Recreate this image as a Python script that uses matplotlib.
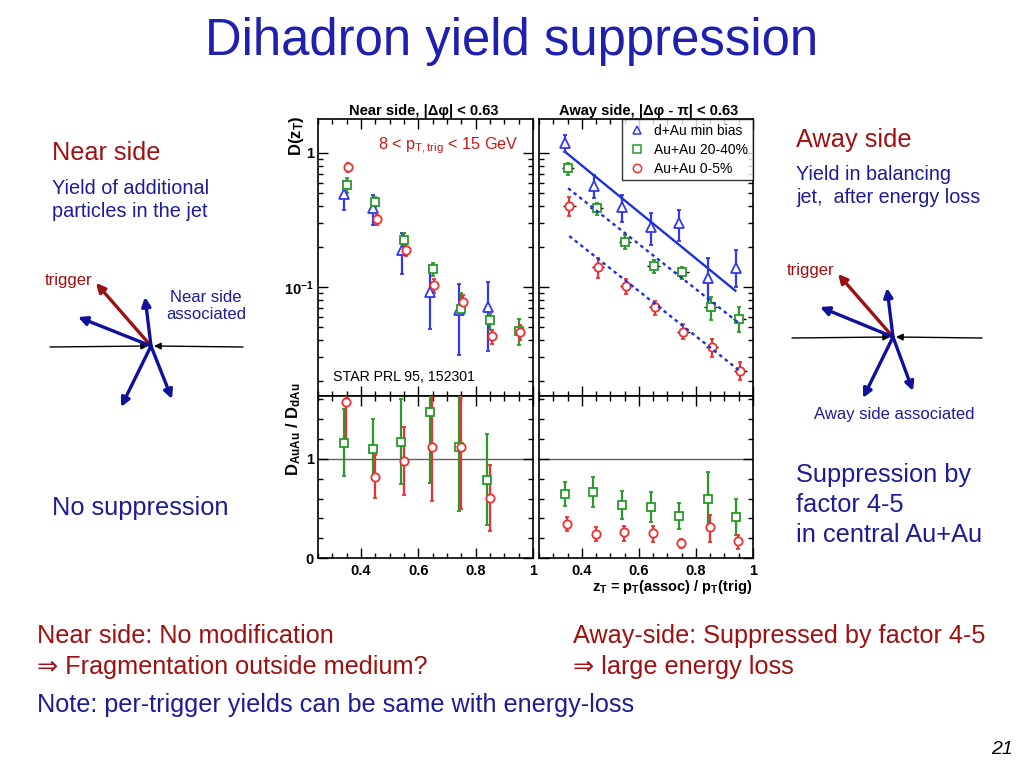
import matplotlib
matplotlib.use("Agg")
import matplotlib.pyplot as plt
from matplotlib.ticker import FixedLocator, FixedFormatter, MultipleLocator, NullFormatter
from matplotlib.lines import Line2D

plt.rcParams['font.family'] = ['Liberation Sans', 'DejaVu Sans']
plt.rcParams['mathtext.fontset'] = 'custom'
plt.rcParams['mathtext.rm'] = 'Liberation Sans'
plt.rcParams['mathtext.it'] = 'Liberation Sans:italic'
plt.rcParams['mathtext.bf'] = 'Liberation Sans:bold'

# z_T bin centres
zt_bins = [0.35, 0.45, 0.55, 0.65, 0.75, 0.85, 0.95]

# near side D(z_T): value, top and bottom of error bar
near_dau = [0.49, 0.386, 0.189, 0.092, 0.067, 0.0705]
near_dau_hi = [0.62, 0.486, 0.254, 0.134, 0.105, 0.109]
near_dau_lo = [0.376, 0.29, 0.126, 0.049, 0.031, 0.0334]
near_mid = [0.577, 0.433, 0.224, 0.136, 0.068, 0.0567, 0.0472]
near_mid_hi = [0.647, 0.47, 0.252, 0.152, 0.09, 0.063, 0.0573]
near_mid_lo = [0.505, 0.397, 0.2, 0.121, 0.064, 0.048, 0.037]
near_cen = [0.78, 0.322, 0.189, 0.103, 0.0777, 0.043, 0.0464]
near_cen_hi = [0.846, 0.345, 0.209, 0.115, 0.087, 0.048, 0.052]
near_cen_lo = [0.725, 0.29, 0.171, 0.091, 0.07, 0.0374, 0.04]

# away side D(z_T)
away_dau = [1.19, 0.567, 0.398, 0.282, 0.299, 0.116, 0.138]
away_dau_hi = [1.36, 0.685, 0.486, 0.355, 0.375, 0.166, 0.19]
away_dau_lo = [1.02, 0.459, 0.307, 0.206, 0.222, 0.071, 0.1]
away_mid = [0.769, 0.387, 0.218, 0.144, 0.129, 0.0705, 0.0577]
away_mid_hi = [0.846, 0.426, 0.244, 0.16, 0.14, 0.084, 0.0705]
away_mid_lo = [0.685, 0.345, 0.192, 0.128, 0.115, 0.0567, 0.0464]
away_cen = [0.404, 0.142, 0.102, 0.0705, 0.0464, 0.0359, 0.0238]
away_cen_hi = [0.47, 0.166, 0.115, 0.079, 0.053, 0.041, 0.0277]
away_cen_lo = [0.34, 0.116, 0.088, 0.0617, 0.0408, 0.030, 0.0203]

# exponential fits on the away side (end points)
fit_dau_z = [0.346, 0.938]
fit_dau = [1.0, 0.094]
fit_mid_z = [0.352, 0.95]
fit_mid = [0.545, 0.054]
fit_cen_z = [0.356, 0.958]
fit_cen = [0.24, 0.0233]

# ratios D_AuAu / D_dAu
ratio_near_mid = [1.164, 1.10, 1.174, 1.47, 1.118, 0.788]
ratio_near_mid_hi = [1.50, 1.40, 1.605, 1.9, 1.9, 1.25]
ratio_near_mid_lo = [0.832, 0.82, 0.748, 0.755, 0.476, 0.335]
ratio_near_cen = [1.571, 0.815, 0.983, 1.118, 1.124, 0.604]
ratio_near_cen_hi = [1.9, 1.04, 1.325, 1.9, 1.9, 0.94]
ratio_near_cen_lo = [1.14, 0.604, 0.637, 0.577, 0.493, 0.275]
ratio_away_mid = [0.644, 0.665, 0.537, 0.51, 0.426, 0.597, 0.413]
ratio_away_mid_hi = [0.762, 0.822, 0.68, 0.665, 0.554, 0.872, 0.594]
ratio_away_mid_lo = [0.527, 0.514, 0.393, 0.365, 0.295, 0.318, 0.228]
ratio_away_cen = [0.342, 0.242, 0.258, 0.252, 0.154, 0.309, 0.167]
ratio_away_cen_hi = [0.416, 0.308, 0.322, 0.325, 0.194, 0.436, 0.235]
ratio_away_cen_lo = [0.268, 0.174, 0.174, 0.164, 0.10, 0.161, 0.091]

c_blue = '#3438e8'
c_green = '#2a9a2a'
c_red = '#ee3030'
t_red = '#a01010'
t_blue = '#1c1c96'


def errs(v, hi, lo):
    return [[a - b for a, b in zip(v, lo)], [b - a for a, b in zip(v, hi)]]


def points(ax, x, v, hi, lo, color, marker, ms, shift, bar=False):
    xs = [z + shift for z in x[:len(v)]]
    if bar:
        ax.errorbar(xs, v, xerr=0.022, fmt='none', ecolor='black', elinewidth=1.0, zorder=2)
    ax.errorbar(xs, v, yerr=errs(v, hi, lo), fmt=marker, color=color, mfc='white',
                mec=color, ms=ms, mew=1.3, elinewidth=1.6, capsize=1.5, capthick=1.5, zorder=3)


def style_axis(ax):
    ax.tick_params(which='both', direction='in', top=True, right=True, width=1.0)
    ax.tick_params(which='major', length=7)
    ax.tick_params(which='minor', length=3.5)
    ax.set_xlim(0.25, 1.0)
    ax.xaxis.set_major_locator(MultipleLocator(0.2))
    ax.xaxis.set_minor_locator(MultipleLocator(0.05))
    for s in ax.spines.values():
        s.set_linewidth(1.2)


fig = plt.figure(figsize=(10.24, 7.68), dpi=100)

# slide layer in pixel coordinates
bg = fig.add_axes([0, 0, 1, 1])
bg.set_xlim(0, 1024)
bg.set_ylim(768, 0)
bg.axis('off')

W, H = 1024.0, 768.0
def box(x0, y0, x1, y1):
    return [x0 / W, 1 - y1 / H, (x1 - x0) / W, (y1 - y0) / H]

ax_nt = fig.add_axes(box(318, 119, 533, 396))
ax_at = fig.add_axes(box(539, 119, 753, 396))
ax_nb = fig.add_axes(box(318, 396, 533, 558))
ax_ab = fig.add_axes(box(539, 396, 753, 558))

# top panels: D(z_T)
for ax in (ax_nt, ax_at):
    ax.set_yscale('log')
    ax.set_ylim(0.0154, 1.79)
    style_axis(ax)
    ax.xaxis.set_major_formatter(NullFormatter())
    ax.yaxis.set_major_locator(FixedLocator([0.1, 1.0]))
    ax.yaxis.set_minor_formatter(NullFormatter())

ax_nt.yaxis.set_major_formatter(FixedFormatter([r'$\mathbf{10^{-1}}$', '1']))
ax_at.yaxis.set_major_formatter(NullFormatter())
for lab in ax_nt.get_yticklabels():
    lab.set_fontweight('bold')
ax_nt.tick_params(axis='y', labelsize=10.5, pad=3)

points(ax_nt, zt_bins, near_dau, near_dau_hi, near_dau_lo, c_blue, '^', 6.5, -0.008)
points(ax_nt, zt_bins, near_mid, near_mid_hi, near_mid_lo, c_green, 's', 5.5, 0.0)
points(ax_nt, zt_bins, near_cen, near_cen_hi, near_cen_lo, c_red, 'o', 6, 0.006)

points(ax_at, zt_bins, away_dau, away_dau_hi, away_dau_lo, c_blue, '^', 6.5, -0.008)
points(ax_at, zt_bins, away_mid, away_mid_hi, away_mid_lo, c_green, 's', 5.5, 0.002, bar=True)
points(ax_at, zt_bins, away_cen, away_cen_hi, away_cen_lo, c_red, 'o', 6, 0.006, bar=True)
ax_at.plot(fit_dau_z, fit_dau, color='#2030d8', lw=1.7, zorder=4)
ax_at.plot(fit_mid_z, fit_mid, color='#2030d8', lw=1.7, ls=(0, (1.5, 1.5)), zorder=4)
ax_at.plot(fit_cen_z, fit_cen, color='#2030d8', lw=1.7, ls=(0, (1.5, 1.5)), zorder=4)

handles = [Line2D([], [], ls='none', marker='^', mfc='white', mec=c_blue, ms=6, mew=1.1),
           Line2D([], [], ls='none', marker='s', mfc='white', mec=c_green, ms=5.5, mew=1.1),
           Line2D([], [], ls='none', marker='o', mfc='white', mec=c_red, ms=6, mew=1.1)]
leg = ax_at.legend(handles, ['d+Au min bias', 'Au+Au 20-40%', 'Au+Au 0-5%'], loc='upper right',
                   fontsize=10, frameon=True, fancybox=False, borderaxespad=0, handletextpad=0.4,
                   borderpad=0.35, labelspacing=0.35, handlelength=1.6)
leg.get_frame().set_edgecolor('black')
leg.get_frame().set_linewidth(1.0)

ax_nt.text(0.28, 0.905, r'8 < p$_{\mathrm{T,trig}}$ < 15 GeV', transform=ax_nt.transAxes,
           color='#c81818', fontsize=11.7, ha='left', va='center')
ax_nt.text(0.07, 0.07, 'STAR PRL 95, 152301', transform=ax_nt.transAxes, fontsize=10.2,
           ha='left', va='center')

# bottom panels: ratio
for ax in (ax_nb, ax_ab):
    ax.set_ylim(0, 1.634)
    style_axis(ax)
    ax.yaxis.set_major_locator(FixedLocator([0, 1]))
    ax.yaxis.set_minor_locator(MultipleLocator(0.2))
    ax.axhline(1.0, color='#606060', lw=1.0, zorder=1)
    ax.tick_params(axis='x', labelsize=10.5, pad=4)
    for lab in ax.get_xticklabels():
        lab.set_fontweight('bold')
    ax.xaxis.set_major_formatter(FixedFormatter(['', '', '0.4', '0.6', '0.8', '1']))
    ax.xaxis.set_major_locator(FixedLocator([0.0, 0.2, 0.4, 0.6, 0.8, 1.0]))

ax_nb.tick_params(axis='y', labelsize=10.5, pad=3)
ax_nb.yaxis.set_major_formatter(FixedFormatter(['0', '1']))
for lab in ax_nb.get_yticklabels():
    lab.set_fontweight('bold')
ax_ab.yaxis.set_major_formatter(NullFormatter())

points(ax_nb, zt_bins, ratio_near_mid, ratio_near_mid_hi, ratio_near_mid_lo, c_green, 's', 5.5, -0.009)
points(ax_nb, zt_bins, ratio_near_cen, ratio_near_cen_hi, ratio_near_cen_lo, c_red, 'o', 6, -0.001)
points(ax_ab, zt_bins, ratio_away_mid, ratio_away_mid_hi, ratio_away_mid_lo, c_green, 's', 5.5, -0.009)
points(ax_ab, zt_bins, ratio_away_cen, ratio_away_cen_hi, ratio_away_cen_lo, c_red, 'o', 6, -0.001)

# panel titles and axis labels
bg.text(424, 111, 'Near side, |\u0394\u03c6| < 0.63', fontsize=10.5, fontweight='bold', ha='center', va='center')
bg.text(649, 111, 'Away side, |\u0394\u03c6 - \u03c0| < 0.63', fontsize=10.5, fontweight='bold', ha='center', va='center')
bg.text(296, 116, r'$\mathbf{D(z_T)}$', fontsize=12, rotation=90, ha='center', va='top')
bg.text(294, 429, r'$\mathbf{D_{AuAu}\ /\ D_{dAu}}$', fontsize=12, rotation=90, ha='center', va='center')
bg.text(752, 587, r'$\mathbf{z_T}$ = p$_\mathbf{T}$(assoc) / p$_\mathbf{T}$(trig)', fontsize=10.5,
        fontweight='bold', ha='right', va='center')

# slide text
bg.text(512, 42, 'Dihadron yield suppression', fontsize=36.6, color='#2020b0', ha='center', va='center')

bg.text(52, 153, 'Near side', fontsize=18.2, color=t_red, ha='left', va='center')
bg.text(52, 200, 'Yield of additional\nparticles in the jet', fontsize=14.3, color=t_blue, ha='left',
        va='center', linespacing=1.32)
bg.text(69, 280, 'trigger', fontsize=12, color=t_red, ha='center', va='center')
bg.text(206, 306, 'Near side\nassociated', fontsize=12, color=t_blue, ha='center', va='center',
        linespacing=1.2)
bg.text(52, 508, 'No suppression', fontsize=18.3, color=t_blue, ha='left', va='center')

bg.text(796, 140, 'Away side', fontsize=18.3, color=t_red, ha='left', va='center')
bg.text(796, 186, 'Yield in balancing\njet,  after energy loss', fontsize=14.2, color=t_blue,
        ha='left', va='center', linespacing=1.32)
bg.text(811, 270, 'trigger', fontsize=12, color=t_red, ha='center', va='center')
bg.text(894, 415, 'Away side associated', fontsize=12, color=t_blue, ha='center', va='center')
bg.text(796, 505, 'Suppression by\nfactor 4-5\nin central Au+Au', fontsize=18.3, color=t_blue,
        ha='left', va='center', linespacing=1.33)

bg.text(37, 636, 'Near side: No modification', fontsize=18.2, color=t_red, va='center')
bg.text(37, 667, '\u21d2 Fragmentation outside medium?', fontsize=18.2, color=t_red, va='center')
bg.text(573, 636, 'Away-side: Suppressed by factor 4-5', fontsize=18.2, color=t_red, va='center')
bg.text(573, 667, '\u21d2 large energy loss', fontsize=18.2, color=t_red, va='center')
bg.text(37, 705, 'Note: per-trigger yields can be same with energy-loss', fontsize=18.2, color=t_blue,
        va='center')
bg.text(1013, 750, '21', fontsize=14, style='italic', ha='right', va='center')


# jet diagrams: centre, trigger tip, associated tips, beam line ends
def diagram(centre, trig, assoc, left_end, right_end):
    cx, cy = centre
    bg.annotate('', xy=(cx - 3, cy), xytext=left_end,
                arrowprops=dict(arrowstyle='-|>', color='black', lw=1.0, mutation_scale=10, shrinkA=0, shrinkB=0))
    bg.annotate('', xy=(cx + 3, cy), xytext=right_end,
                arrowprops=dict(arrowstyle='-|>', color='black', lw=1.0, mutation_scale=10, shrinkA=0, shrinkB=0))
    bg.annotate('', xy=trig, xytext=centre,
                arrowprops=dict(arrowstyle='-|>', color='#9a1212', lw=2.4, mutation_scale=13, shrinkA=0, shrinkB=0))
    for tip in assoc:
        bg.annotate('', xy=tip, xytext=centre,
                    arrowprops=dict(arrowstyle='-|>', color='#10109c', lw=2.4, mutation_scale=13, shrinkA=0, shrinkB=0))


diagram((151, 346), (96, 283), [(78, 317), (145, 297), (121, 407), (172, 399)], (50, 347), (243, 347))
diagram((893, 337), (838, 274), [(820, 307), (887, 288), (863, 398), (913, 391)], (792, 338), (982, 338))

fig.savefig('out.png', dpi=100)
